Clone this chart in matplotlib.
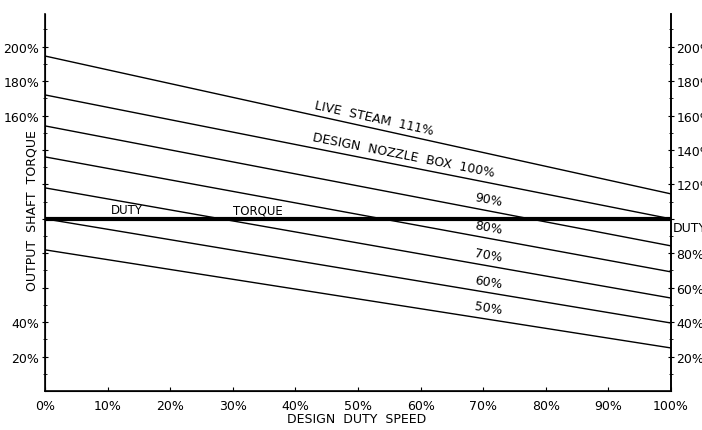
import numpy as np
import matplotlib.pyplot as plt

# speed in % of design duty speed, torque in % of duty torque
speed = [0, 100]
line_labels = ['LIVE  STEAM  111%', 'DESIGN  NOZZLE  BOX  100%', '90%', '80%', '70%', '60%', '50%']
torque_zero_speed = [194.6, 172.0, 154.0, 136.0, 118.0, 100.0, 82.0]
torque_full_speed = [114.5, 100.0, 84.3, 69.2, 54.0, 39.5, 25.0]
duty_torque = 100

x_ticks = [0, 10, 20, 30, 40, 50, 60, 70, 80, 90, 100]
left_labels = {20: '20%', 40: '40%', 160: '160%', 180: '180%', 200: '200%'}
right_labels = {20: '20%', 40: '40%', 60: '60%', 80: '80%', 120: '120%',
                140: '140%', 160: '160%', 180: '180%', 200: '200%'}

# where along the speed axis each curve label sits
label_x = [52.6, 57.3, 70.8, 70.8, 70.8, 70.8, 70.8]

fig = plt.figure(figsize=(7.02, 4.31), dpi=100)
ax = fig.add_axes([45 / 702, 39 / 431, 626 / 702, 377 / 431])
ax.set_xlim(0, 100)
ax.set_ylim(0, 219)

for t0, t1 in zip(torque_zero_speed, torque_full_speed):
    ax.plot(speed, [t0, t1], color='black', lw=1.0)

# duty torque line
ax.plot(speed, [duty_torque, duty_torque], color='black', lw=3.0, solid_capstyle='butt')
ax.text(13.1, duty_torque + 1.5, 'DUTY', fontsize=8.5, ha='center', va='bottom')
ax.text(34.0, duty_torque + 1.5, 'TORQUE', fontsize=8.5, ha='center', va='bottom')
ax.text(100.3, duty_torque - 1.5, 'DUTY', fontsize=9, ha='left', va='top', clip_on=False)

# labels on the curves, rotated to follow them
for lab, xl, t0, t1 in zip(line_labels, label_x, torque_zero_speed, torque_full_speed):
    slope = (t1 - t0) / 100.0
    yl = t0 + slope * xl
    p1 = ax.transData.transform((0, t0))
    p2 = ax.transData.transform((100, t1))
    ang = np.degrees(np.arctan2(p2[1] - p1[1], p2[0] - p1[0]))
    ax.text(xl, yl + 6.5, lab, fontsize=9, ha='center', va='center',
            rotation=ang, rotation_mode='anchor')

ax.spines['top'].set_visible(False)
for s in ['left', 'right', 'bottom']:
    ax.spines[s].set_linewidth(1.2)

ax.set_xticks(x_ticks)
ax.set_xticklabels([f'{v}%' for v in x_ticks], fontsize=9)
ax.tick_params(axis='x', direction='in', length=3, pad=6)

yt = list(range(20, 220, 20))
ax.set_yticks(yt)
ax.set_yticklabels([left_labels.get(v, '') for v in yt], fontsize=9)
ax.set_yticks(range(10, 220, 10), minor=True)
ax.tick_params(axis='y', which='major', direction='inout', length=4, pad=2)
ax.tick_params(axis='y', which='minor', direction='inout', length=3)

ax2 = ax.twinx()
ax2.set_ylim(ax.get_ylim())
ax2.spines['top'].set_visible(False)
ax2.spines['right'].set_linewidth(1.2)
ax2.set_yticks(yt)
ax2.set_yticklabels([right_labels.get(v, '') for v in yt], fontsize=9)
ax2.set_yticks(range(10, 220, 10), minor=True)
ax2.tick_params(axis='y', which='major', direction='inout', length=4, pad=2)
ax2.tick_params(axis='y', which='minor', direction='inout', length=3)

fig.text(32 / 702, 1 - 211 / 431, 'OUTPUT  SHAFT  TORQUE', rotation=90,
         fontsize=9, ha='center', va='center')
fig.text(357 / 702, 1 - 420 / 431, 'DESIGN  DUTY  SPEED', fontsize=9,
         ha='center', va='center')

fig.savefig('out.png', dpi=100)
